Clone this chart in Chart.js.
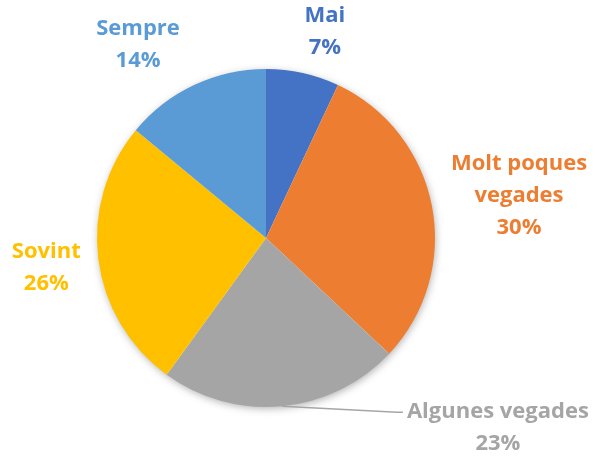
<!DOCTYPE html>
<html>
<head>
<meta charset="utf-8">
<script src="https://cdn.jsdelivr.net/npm/chart.js@4"></script>
<style>
html,body{margin:0;padding:0;background:#fff;}
#wrap{width:595px;height:456px;position:relative;}
</style>
</head>
<body>
<div id="wrap"><canvas id="c" width="595" height="456"></canvas></div>
<script>
const categories = ["Mai", "Molt poques vegades", "Algunes vegades", "Sovint", "Sempre"];
const values = [7, 30, 23, 26, 14];
const colors = ["#4472C4", "#ED7D31", "#A5A5A5", "#FFC000", "#5B9BD5"];
const labelLines = [["Mai"], ["Molt poques", "vegades"], ["Algunes vegades"], ["Sovint"], ["Sempre"]];
const labelColors = ["#4472C4", "#ED7D31", "#A5A5A5", "#FFC000", "#5B9BD5"];
// label offsets from the slice's outer-edge midpoint (style/position config)
const labelOffsets = [[22, -41], [87, -11], [216, 21], [-52, 9], [-56, -40]];
const leaderLines = [false, false, true, false, false];

const shadowPlugin = {
  id: 'shadow',
  beforeDatasetsDraw(chart) {
    const arc = chart.getDatasetMeta(0).data[0];
    if (!arc) return;
    const ctx = chart.ctx;
    ctx.save();
    ctx.shadowColor = 'rgba(0,0,0,0.35)';
    ctx.shadowBlur = 9;
    ctx.shadowOffsetX = 1;
    ctx.shadowOffsetY = 2;
    ctx.fillStyle = '#ffffff';
    ctx.beginPath();
    ctx.arc(arc.x, arc.y, arc.outerRadius - 1, 0, Math.PI * 2);
    ctx.fill();
    ctx.restore();
  }
};

const labelPlugin = {
  id: 'pieLabels',
  afterDatasetsDraw(chart) {
    const ctx = chart.ctx;
    const meta = chart.getDatasetMeta(0);
    const total = values.reduce((a, b) => a + b, 0);
    const lh = 32;
    ctx.save();
    ctx.font = 'bold 22px "Open Sans", "Liberation Sans", sans-serif';
    ctx.textAlign = 'center';
    ctx.textBaseline = 'middle';
    meta.data.forEach((arc, i) => {
      const mid = (arc.startAngle + arc.endAngle) / 2;
      const ax = arc.x + arc.outerRadius * Math.cos(mid);
      const ay = arc.y + arc.outerRadius * Math.sin(mid);
      const cx = ax + labelOffsets[i][0];
      const cy = ay + labelOffsets[i][1];
      const lines = labelLines[i].concat([Math.round(values[i] / total * 100) + '%']);
      const y0 = cy - (lines.length - 1) * lh / 2;
      if (leaderLines[i]) {
        const w = ctx.measureText(lines[0]).width;
        const ex = cx - w / 2 - 4;
        ctx.strokeStyle = '#A6A6A6';
        ctx.lineWidth = 1.5;
        ctx.beginPath();
        ctx.moveTo(ax, ay);
        ctx.lineTo(ex - 6, y0 + 1);
        ctx.lineTo(ex, y0 + 1);
        ctx.stroke();
      }
      ctx.fillStyle = labelColors[i];
      lines.forEach((t, k) => ctx.fillText(t, cx, y0 + k * lh));
    });
    ctx.restore();
  }
};

new Chart(document.getElementById('c'), {
  type: 'pie',
  data: {
    labels: categories,
    datasets: [{
      data: values,
      backgroundColor: colors,
      borderWidth: 0
    }]
  },
  options: {
    responsive: false,
    animation: false,
    layout: { padding: { left: 97, right: 160, top: 69, bottom: 49 } },
    plugins: { legend: { display: false }, tooltip: { enabled: false } }
  },
  plugins: [shadowPlugin, labelPlugin]
});
</script>
</body>
</html>
